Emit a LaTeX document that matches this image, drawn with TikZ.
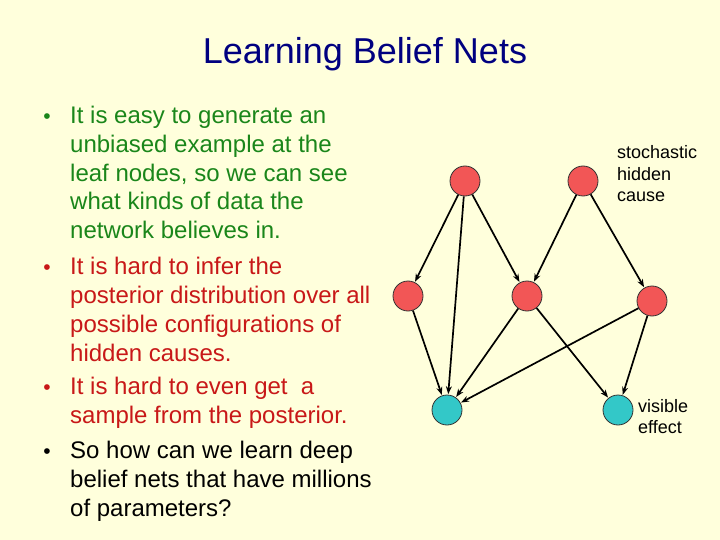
\documentclass[tikz,border=0pt]{standalone}
\usepackage{fontspec}
\setmainfont{Liberation Sans}
\usetikzlibrary{arrows.meta}
\definecolor{bg}{HTML}{FFFFDC}
\definecolor{titlecol}{HTML}{000080}
\definecolor{greentxt}{HTML}{1A861A}
\definecolor{redtxt}{HTML}{C81818}
\definecolor{hidfill}{HTML}{F25656}
\definecolor{visfill}{HTML}{33C8C8}
\begin{document}
\begin{tikzpicture}[x=1pt,y=-1pt,
  txtline/.style={anchor=base west, inner sep=0pt, font=\fontsize{24}{29}\selectfont},
  bul/.style={anchor=base, inner sep=0pt, font=\fontsize{21}{24}\selectfont},
  lbl/.style={anchor=base west, inner sep=0pt, font=\fontsize{18}{21}\selectfont},
  hid/.style={circle, draw=black!80, line width=0.8pt, fill=hidfill, minimum size=30pt, inner sep=0pt},
  vis/.style={circle, draw=black!80, line width=0.8pt, fill=visfill, minimum size=30pt, inner sep=0pt},
  edge/.style={-{Stealth[length=8pt,width=6pt]}, line width=1.7pt, shorten >=0.5pt}]
\useasboundingbox (0,0) rectangle (720,540);
\fill[bg] (0,0) rectangle (720,540);

\node[anchor=base, inner sep=0pt, font=\fontsize{36}{40}\selectfont, text=titlecol] (title) at (365,64) {Learning Belief Nets};

% bullet 1 (green)
\begin{scope}[text=greentxt]
\node[bul] (b1) at (47,124) {•};
\node[txtline] (l1) at (70,124) {It is easy to generate an};
\node[txtline] (l2) at (70,153) {unbiased example at the};
\node[txtline] (l3) at (70,182) {leaf nodes, so we can see};
\node[txtline] (l4) at (70,210) {what kinds of data the};
\node[txtline] (l5) at (70,239) {network believes in.};
\end{scope}
% bullet 2 (red)
\begin{scope}[text=redtxt]
\node[bul] (b2) at (47,274) {•};
\node[txtline] (l6) at (70,274) {It is hard to infer the};
\node[txtline] (l7) at (70,303) {posterior distribution over all};
\node[txtline] (l8) at (70,332) {possible configurations of};
\node[txtline] (l9) at (70,361) {hidden causes.};
% bullet 3 (red)
\node[bul] (b3) at (47,394) {•};
\node[txtline] (l10) at (70,394) {It is hard to even get\ \ a};
\node[txtline] (l11) at (70,423) {sample from the posterior.};
\end{scope}
% bullet 4 (black)
\node[bul] (b4) at (47,458) {•};
\node[txtline] (l12) at (70,458) {So how can we learn deep};
\node[txtline] (l13) at (70,487) {belief nets that have millions};
\node[txtline] (l14) at (70,516) {of parameters?};

% network
\node[hid] (tl) at (465,181) {};
\node[hid] (tr) at (583,181) {};
\node[hid] (ml) at (408,296) {};
\node[hid] (mc) at (527,296) {};
\node[hid] (mr) at (652,301) {};
\node[vis] (bl) at (447,410) {};
\node[vis] (br) at (618,410) {};

\draw[edge] (tl) -- (ml);
\draw[edge] (tl) -- (bl);
\draw[edge] (tl) -- (mc);
\draw[edge] (tr) -- (mc);
\draw[edge] (tr) -- (mr);
\draw[edge] (ml) -- (bl);
\draw[edge] (mc) -- (bl);
\draw[edge] (mc) -- (br);
\draw[edge] (mr) -- (bl);
\draw[edge] (mr) -- (br);

\node[lbl] (s1) at (617,159) {stochastic};
\node[lbl] (s2) at (617,180.5) {hidden};
\node[lbl] (s3) at (617,202) {cause};
\node[lbl] (v1) at (638,412) {visible};
\node[lbl] (v2) at (638,433.5) {effect};
\end{tikzpicture}
\end{document}
